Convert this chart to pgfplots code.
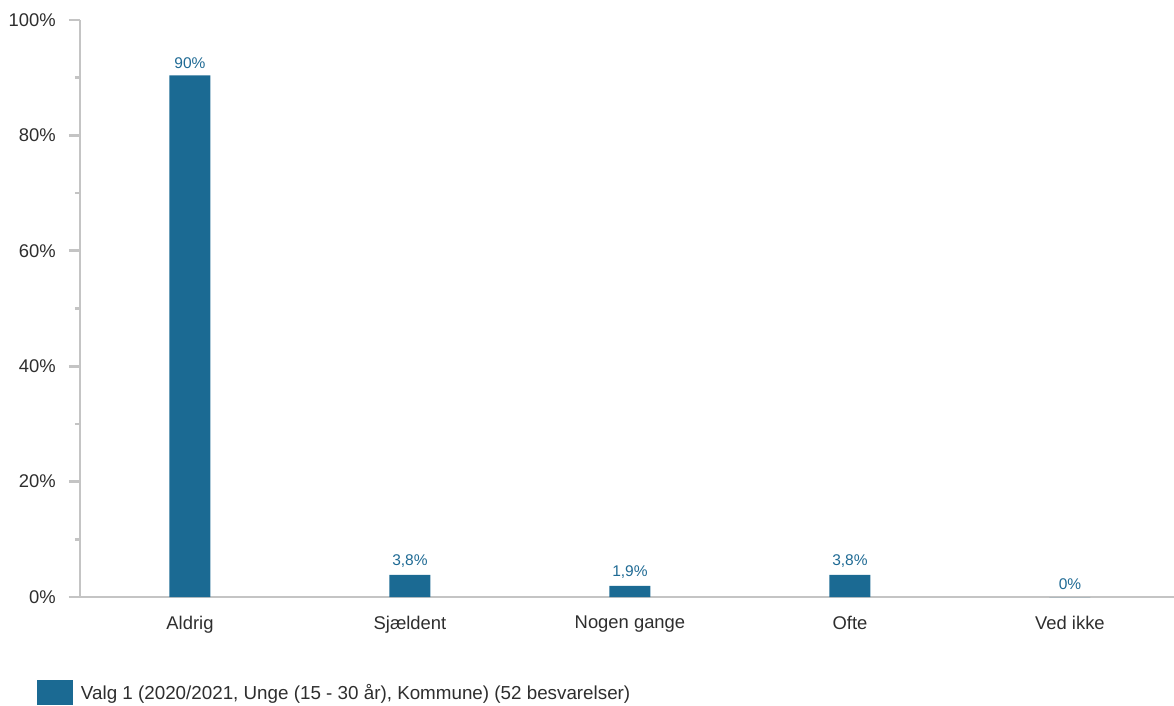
\documentclass[border=0pt]{standalone}
\usepackage{fontspec}
\setmainfont{Liberation Sans}
\usepackage{pgfplots}
\pgfplotsset{compat=1.18}
\definecolor{barc}{HTML}{1B6A93}
\definecolor{labc}{HTML}{1F6A94}
\definecolor{axc}{HTML}{C4C4C4}
\definecolor{txt}{HTML}{2E2E2E}
\begin{document}
\begin{tikzpicture}
\begin{axis}[
  scale only axis,
  width=1094pt, height=577pt,
  xmin=-0.5, xmax=4.473,
  ymin=0, ymax=100,
  axis lines=left,
  axis line style={-, draw=axc, line width=2.7pt},
  x axis line style={shorten <=-11pt},
  xtick=data,
  xticklabels={Aldrig,Sjældent,Nogen gange,Ofte,Ved ikke},
  x tick style={draw=none},
  ytick={0,20,40,60,80,100},
  yticklabels={0\%,20\%,40\%,60\%,80\%,100\%},
  minor ytick={10,30,50,70,90},
  tick align=outside,
  major tick length=11pt,
  minor tick length=5pt,
  y tick style={draw=axc, line width=2.7pt},
  /pgf/number format/assume math mode=true,
  ticklabel style={font=\fontsize{18.4}{21}\selectfont, text=txt},
  yticklabel style={inner sep=0pt, xshift=-13pt},
  xticklabel style={inner sep=0pt, yshift=-8pt},
  ybar, bar width=41pt,
  nodes near coords,
  point meta=explicit symbolic,
  nodes near coords style={font=\fontsize{15.5}{18}\selectfont, text=labc, inner sep=0pt, yshift=7pt, anchor=south},
  legend style={at={(rel axis cs:0,0)}, anchor=north west, xshift=-43pt, yshift=-83pt,
    draw=none, inner sep=0pt, outer sep=0pt,
    font=\fontsize{18.8}{21}\selectfont, text=txt,
    nodes={inner sep=0pt}, column sep=0pt},
  legend cell align=left,
  legend image code/.code={\fill[barc] (0pt,-12.5pt) rectangle (36pt,12.5pt); \path (44pt,0pt);},
  clip=false,
]
\addplot[fill=barc, draw=none] coordinates {
  (0,90.4) [90\%]
  (1,3.85) [3,8\%]
  (2,1.92) [1,9\%]
  (3,3.85) [3,8\%]
  (4,0) [0\%]
};
\addlegendentry{Valg 1 (2020/2021, Unge (15 - 30 år), Kommune) (52 besvarelser)}
\coordinate (origin) at (rel axis cs:0,0);
\end{axis}
\pgfresetboundingbox
\path (origin) ++(-80pt,-109pt) rectangle ++(1174pt,706pt);
\end{tikzpicture}
\end{document}
